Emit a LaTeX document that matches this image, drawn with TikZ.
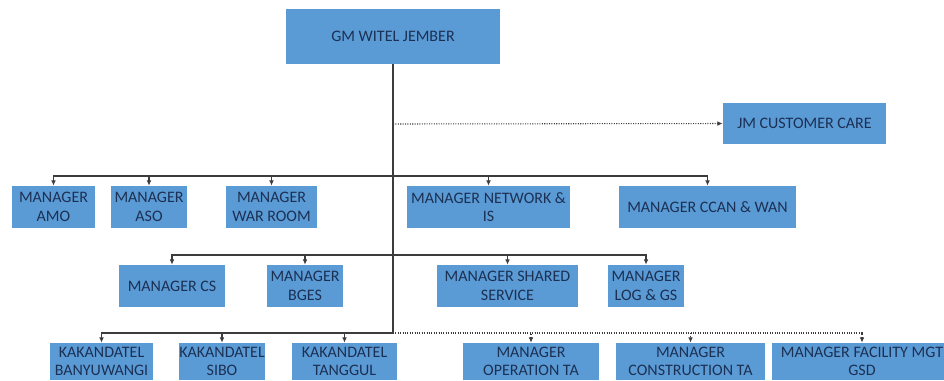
\documentclass[tikz,border=0pt]{standalone}
\usepackage{fontspec}
\setmainfont{Carlito}
\usetikzlibrary{arrows.meta}

\definecolor{boxblue}{RGB}{91,155,213}
\definecolor{navytext}{RGB}{28,48,84}
\definecolor{linegray}{RGB}{60,60,60}

\tikzset{
  unit/.style={fill=boxblue, text=navytext, align=center, inner sep=0pt,
    minimum height=31.5pt, font=\fontsize{12}{14}\selectfont},
  link/.style={draw=linegray, line width=0.8pt},
  drop/.style={link, -{Latex[length=4pt,width=3.5pt]}},
  dotlink/.style={link, densely dotted},
  dotdrop/.style={dotlink, -{Latex[length=4pt,width=3.5pt]}}
}

\begin{document}
\begin{tikzpicture}[x=0.75pt,y=0.75pt,yscale=-1,xscale=1]
\useasboundingbox (0,0) rectangle (944,380);
\clip (0,0) rectangle (944,380);

%Shape: Rectangle -- top
\node[unit, minimum width=160.5pt, minimum height=41.25pt] (gm) at (393,36.5) {GM WITEL JEMBER};
\node[unit, minimum width=122.25pt, minimum height=30.75pt] (jm) at (804.5,123.5) {JM CUSTOMER CARE};

%Shape: Rectangle -- first row
\node[unit, minimum width=62.25pt] (amo) at (53.5,207) {MANAGER\\AMO};
\node[unit, minimum width=57pt] (aso) at (149,207) {MANAGER\\ASO};
\node[unit, minimum width=68.25pt] (war) at (271.5,207) {MANAGER\\WAR ROOM};
\node[unit, minimum width=122.25pt] (net) at (488.5,207) {MANAGER NETWORK \&\\IS};
\node[unit, minimum width=132.75pt] (ccan) at (707.5,207) {MANAGER CCAN \& WAN};

%Shape: Rectangle -- second row
\node[unit, minimum width=79.5pt] (cs) at (172,286) {MANAGER CS};
\node[unit, minimum width=57pt] (bges) at (305,286) {MANAGER\\BGES};
\node[unit, minimum width=105.75pt] (shared) at (507.5,286) {MANAGER SHARED\\SERVICE};
\node[unit, minimum width=57pt] (log) at (646,286) {MANAGER\\LOG \& GS};

%Shape: Rectangle -- third row (cut by the lower edge)
\tikzset{lowrow/.style={unit, minimum height=27.75pt}}
\node[lowrow, minimum width=77.25pt] (bany) at (101.5,361.5) {KAKANDATEL\\BANYUWANGI};
\node[lowrow, minimum width=58.5pt] (sibo) at (222,361.5) {KAKANDATEL\\SIBO};
\node[lowrow, minimum width=78.75pt] (tanggul) at (344.5,361.5) {KAKANDATEL\\TANGGUL};
\node[lowrow, minimum width=102pt] (oper) at (531,361.5) {MANAGER\\OPERATION TA};
\node[lowrow, minimum width=111.75pt] (constr) at (690.5,361.5) {MANAGER\\CONSTRUCTION TA};
\node[lowrow, minimum width=135pt] (fac) at (862,361.5) {MANAGER FACILITY MGT\\GSD};

%Straight Lines -- trunk and buses
\coordinate (jmfork) at (393,124);
\coordinate (bus1) at (393,176);
\coordinate (bus2) at (393,255);
\coordinate (bus3) at (393,333);
\draw[link, line width=1pt] (gm.south) -- (bus3);
\draw[dotdrop] (jmfork) -- (jm.west);

\foreach \n in {amo,aso,war,net,ccan}
  \draw[drop] (bus1) -| (\n.north);
\foreach \n in {cs,bges,shared,log}
  \draw[drop] (bus2) -| (\n.north);
\foreach \n in {bany,sibo,tanggul}
  \draw[drop] (bus3) -| (\n.north);
\foreach \n in {oper,constr,fac}
  \draw[dotdrop] (bus3) -| (\n.north);

\end{tikzpicture}
\end{document}
